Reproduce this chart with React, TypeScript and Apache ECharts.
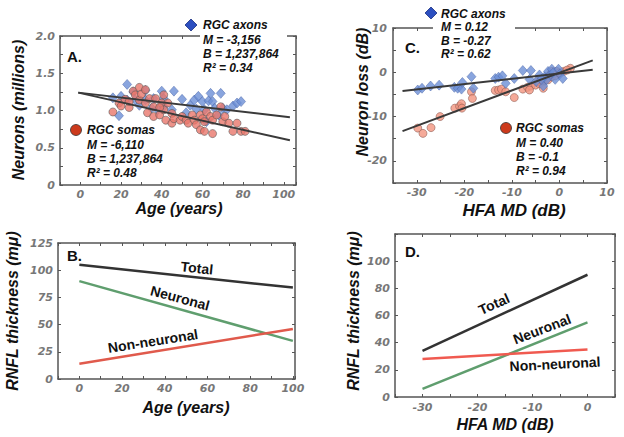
import React, { useEffect, useRef } from "react";
import * as echarts from "echarts";

// Panel A: neurons (millions) vs age
const axonAgeA = [16, 20, 19, 23, 23, 26, 27, 29, 32, 32, 35, 36, 38, 40, 41, 41, 46, 45, 50, 52, 54, 56, 57, 58, 60, 61, 63, 64, 65, 66, 68, 69, 70, 72, 75, 77, 79, 62];
const axonValA = [1.17, 1.19, 0.93, 1.14, 1.35, 1.25, 1.14, 1.07, 1.27, 1.14, 1.03, 1.16, 1.01, 1.26, 1.16, 1.05, 1.26, 1.01, 1.15, 0.97, 1.07, 1.14, 1.02, 1.19, 1.12, 1.01, 1.13, 1.23, 1.12, 1.03, 0.94, 1.23, 1.03, 1.01, 1.06, 1.1, 1.12, 0.85];
const somaAgeA = [16, 19, 20, 22, 24, 26, 27, 29, 29, 30, 32, 33, 34, 36, 36, 37, 39, 40, 41, 42, 43, 45, 45, 46, 49, 50, 52, 53, 55, 56, 57, 59, 60, 61, 62, 64, 65, 67, 69, 70, 71, 73, 59, 61, 65, 75, 77, 79, 81, 39, 24, 32, 41];
const somaValA = [0.98, 1.1, 1.06, 1.15, 1.04, 1.26, 1.21, 1.31, 1.14, 1.22, 1.1, 0.97, 1.16, 0.92, 1.05, 1.16, 0.94, 1.1, 1.01, 0.87, 1.1, 0.96, 0.83, 0.89, 0.87, 0.92, 0.87, 0.83, 0.94, 0.87, 0.81, 0.94, 0.89, 0.85, 0.98, 0.92, 0.87, 0.94, 1.05, 0.85, 0.92, 0.83, 0.74, 0.72, 0.69, 0.72, 0.83, 0.72, 0.72, 1.04, 1.12, 1.28, 1.21];
const fitAgeA = [-1, 103];
const axonFitA = [1.24, 0.91];
const somaFitA = [1.24, 0.6];

// Panel C: neuron loss (dB) vs HFA MD
const axonMdC = [-29.8, -28.9, -27.1, -25.3, -22.1, -21.4, -20.6, -20.4, -18.5, -18.1, -13.5, -12.8, -12.0, -11.3, -9.5, -7.7, -6.0, -6.3, -4.9, -4.2, -3.4, -3.1, -2.4, -2.0, -1.6, -1.3, -0.9, -0.2, 0.1, 0.7, -2.7, -3.8];
const axonValC = [-4.0, -3.6, -3.1, -2.9, -3.4, -3.6, -3.8, -2.3, -1.0, -3.6, -1.4, -1.1, -0.8, -2.5, -1.4, 0.4, 0.4, -1.6, -2.1, -0.6, -3.1, -1.0, 0.2, -0.6, 0.7, -0.1, -1.6, 0.7, -0.4, -1.4, -1.7, -1.6];
const somaMdC = [-29.8, -28.7, -27.0, -25.1, -22.0, -21.0, -20.6, -20.5, -18.5, -18.3, -13.5, -12.8, -12.2, -11.3, -9.5, -7.7, -6.7, -6.0, -6.3, -5.0, -4.5, -4.2, -3.4, -3.1, -2.7, -2.4, -2.0, -1.6, -1.3, -0.9, -0.6, 0.1, 0.9, 2.3, 1.6, -3.4, -1.6];
const somaValC = [-12.6, -13.8, -12.5, -10.0, -8.1, -7.7, -7.1, -8.1, -4.4, -5.9, -4.1, -4.0, -3.8, -4.4, -5.7, -3.8, -3.4, -3.1, -4.0, -2.9, -2.1, -2.6, -2.1, -1.6, -1.1, -1.7, -0.6, -1.0, -0.4, -0.8, 0.2, -0.1, 0.2, 0.9, 0.5, -3.6, 0.2];
const fitMdC = [-33, 7];
const axonFitC = [-4.2, 0.55];
const somaFitC = [-13.3, 2.7];

// Panel B: RNFL thickness vs age
const ageB = [0, 100];
const totalB = [105, 84];
const neuronalB = [90, 35];
const nonNeuronalB = [14, 46];

// Panel D: RNFL thickness vs HFA MD
const mdD = [-30, 0];
const totalD = [34, 90];
const neuronalD = [6, 55];
const nonNeuronalD = [28, 35];

const zip = (xs: number[], ys: number[]) => xs.map((x, i) => [x, ys[i]]);

const AX = "#555";
const tickFont = {
  color: "#777",
  fontFamily: "DejaVu Sans",
  fontWeight: "bold" as const,
  fontStyle: "italic" as const,
  fontSize: 11,
};

function axis(
  dim: "x" | "y",
  gridIndex: number,
  min: number,
  max: number,
  interval: number,
  fmt: ((v: number) => string) | null,
  mirror: boolean,
  margin: number
) {
  return {
    type: "value",
    gridIndex,
    min,
    max,
    interval,
    position: dim === "x" ? (mirror ? "top" : "bottom") : mirror ? "right" : "left",
    axisLine: { show: true, onZero: false, lineStyle: { color: AX, width: 1.5 } },
    axisTick: { show: true, inside: true, length: 3, lineStyle: { color: AX, width: 1 } },
    axisLabel: {
      show: !mirror,
      margin,
      ...tickFont,
      formatter: fmt ? (v: number) => fmt(v) : undefined,
    },
    splitLine: { show: false },
  };
}

const nameFont = "italic bold 16px 'Liberation Sans', Arial, sans-serif";
const legFont = "italic bold 12px 'Liberation Sans', Arial, sans-serif";
const lineFont = "bold 14px 'Liberation Sans', Arial, sans-serif";
const panelFont = "bold 15px 'Liberation Sans', Arial, sans-serif";

function txt(text: string, x: number, y: number, font: string, align = "left", rotation = 0) {
  return {
    type: "text",
    x,
    y,
    rotation,
    z: 100,
    style: { text, font, fill: "#111", align, verticalAlign: "middle" },
  };
}

function diamond(x: number, y: number, r: number) {
  return {
    type: "polygon",
    z: 100,
    shape: { points: [[x, y - r], [x + r, y], [x, y + r], [x - r, y]] },
    style: { fill: "#2c4fc0", stroke: "#1a2f80", lineWidth: 0.8 },
  };
}
function dot(x: number, y: number, r: number) {
  return {
    type: "circle",
    z: 100,
    shape: { cx: x, cy: y, r },
    style: { fill: "#cc3a1c", stroke: "#333", lineWidth: 0.8 },
  };
}
function mask(x: number, y: number, w: number, h: number) {
  return { type: "rect", z: 90, shape: { x, y, width: w, height: h }, style: { fill: "#fff" } };
}

const deg = Math.PI / 180;

export default function App() {
  const ref = useRef<HTMLDivElement>(null);
  useEffect(() => {
    if (!ref.current) return;
    const chart = echarts.init(ref.current, null, { renderer: "svg" });
    const fit = (
      xs: number[],
      ys: number[],
      gi: number,
      color: string,
      width: number
    ) => ({
      type: "line",
      xAxisIndex: gi * 2,
      yAxisIndex: gi * 2,
      data: zip(xs, ys),
      symbol: "none",
      lineStyle: { color, width },
      z: 5,
    });
    const option = {
      animation: false,
      backgroundColor: "#fff",
      grid: [
        { left: 60, top: 36, width: 236, height: 149 },
        { left: 58, top: 243, width: 237, height: 136 },
        { left: 393, top: 28, width: 214, height: 155 },
        { left: 395, top: 234, width: 220, height: 163 },
      ],
      xAxis: [
        axis("x", 0, -10, 106, 10, (v) => (v % 20 === 0 && v >= 0 && v <= 100 ? String(v) : ""), false, 4),
        axis("x", 0, -10, 106, 10, null, true, 4),
        axis("x", 1, -10, 101, 10, (v) => (v % 20 === 0 && v >= 0 && v <= 100 ? String(v) : ""), false, 4),
        axis("x", 1, -10, 101, 10, null, true, 4),
        axis("x", 2, -35, 10, 5, (v) => (v % 10 === 0 ? String(v) : ""), false, 4),
        axis("x", 2, -35, 10, 5, null, true, 4),
        axis("x", 3, -35, 5, 5, (v) => (v % 10 === 0 && v <= 0 ? String(v) : ""), false, 5),
        axis("x", 3, -35, 5, 5, null, true, 5),
      ],
      yAxis: [
        axis("y", 0, 0, 2, 0.25, (v) => (v === 0 ? "0" : Math.abs(v * 2 - Math.round(v * 2)) < 1e-9 ? v.toFixed(1) : ""), false, 5),
        axis("y", 0, 0, 2, 0.25, null, true, 5),
        axis("y", 1, 0, 125, 25, (v) => String(v), false, 5),
        axis("y", 1, 0, 125, 25, null, true, 5),
        axis("y", 2, -25, 10, 5, (v) => (v % 10 === 0 ? String(v) : ""), false, 6),
        axis("y", 2, -25, 10, 5, null, true, 6),
        axis("y", 3, 0, 120, 20, (v) => (v <= 100 ? String(v) : ""), false, 5),
        axis("y", 3, 0, 120, 20, null, true, 5),
      ],
      series: [
        {
          type: "scatter",
          xAxisIndex: 0,
          yAxisIndex: 0,
          symbol: "diamond",
          symbolSize: [9, 10],
          data: zip(axonAgeA, axonValA),
          itemStyle: { color: "#6b8fd6", borderColor: "#4a66a8", borderWidth: 0.6 },
          z: 2,
        },
        {
          type: "scatter",
          xAxisIndex: 0,
          yAxisIndex: 0,
          symbol: "circle",
          symbolSize: 8,
          data: zip(somaAgeA, somaValA),
          itemStyle: { color: "#e8776c", borderColor: "#555", borderWidth: 0.7 },
          z: 3,
        },
        fit(fitAgeA, axonFitA, 0, "#3a3a3a", 2),
        fit(fitAgeA, somaFitA, 0, "#3a3a3a", 2),
        {
          type: "scatter",
          xAxisIndex: 4,
          yAxisIndex: 4,
          symbol: "circle",
          symbolSize: 8,
          data: zip(somaMdC, somaValC),
          itemStyle: { color: "#f3957f", borderColor: "#8a5a50", borderWidth: 0.7 },
          z: 2,
        },
        {
          type: "scatter",
          xAxisIndex: 4,
          yAxisIndex: 4,
          symbol: "diamond",
          symbolSize: [9, 10],
          data: zip(axonMdC, axonValC),
          itemStyle: { color: "#6b8fd6", borderColor: "#4a66a8", borderWidth: 0.6 },
          z: 3,
        },
        fit(fitMdC, axonFitC, 2, "#3a3a3a", 2),
        fit(fitMdC, somaFitC, 2, "#3a3a3a", 2),
        fit(ageB, totalB, 1, "#333333", 2.5),
        fit(ageB, neuronalB, 1, "#5f9e6e", 2.5),
        fit(ageB, nonNeuronalB, 1, "#e05a4c", 2.5),
        fit(mdD, totalD, 3, "#333333", 2.5),
        fit(mdD, neuronalD, 3, "#5f9e6e", 2.5),
        fit(mdD, nonNeuronalD, 3, "#f05a50", 2.5),
      ],
      graphic: [
        // Panel labels
        txt("A.", 67, 56, panelFont),
        txt("B.", 67, 255, panelFont),
        txt("C.", 405, 47, panelFont),
        txt("D.", 405, 251, panelFont),
        // Axis names
        txt("Age (years)", 179, 208, nameFont, "center"),
        txt("Neurons (millions)", 18, 110, nameFont, "center", Math.PI / 2),
        txt("Age (years)", 186, 407, nameFont, "center"),
        txt("RNFL thickness (m\u03bc)", 12, 311, nameFont, "center", Math.PI / 2),
        txt("HFA MD (dB)", 514, 210, "italic bold 17px 'Liberation Sans', Arial, sans-serif", "center"),
        txt("Neuron loss (dB)", 362, 92, nameFont, "center", Math.PI / 2),
        txt("HFA MD (dB)", 505, 424, nameFont, "center"),
        txt("RNFL thickness (m\u03bc)", 353, 311, nameFont, "center", Math.PI / 2),
        // Panel A legends
        mask(200, 31, 87, 11),
        diamond(191, 25, 6),
        txt("RGC axons", 203, 25, legFont),
        txt("M = -3,156", 203, 40, legFont),
        txt("B = 1,237,864", 203, 54, legFont),
        txt("R\u00b2 = 0.34", 203, 68, legFont),
        dot(76, 130, 5.5),
        txt("RGC somas", 87, 130, legFont),
        txt("M = -6,110", 87, 145, legFont),
        txt("B = 1,237,864", 87, 159, legFont),
        txt("R\u00b2 = 0.48", 87, 173, legFont),
        // Panel C legends
        mask(433, 22, 82, 11),
        diamond(431, 13, 6),
        txt("RGC axons", 441, 14, legFont),
        txt("M = 0.12", 441, 27, legFont),
        txt("B = -0.27", 441, 41, legFont),
        txt("R\u00b2 = 0.62", 441, 54, legFont),
        dot(506, 128, 5.5),
        txt("RGC somas", 516, 128, legFont),
        txt("M = 0.40", 516, 143, legFont),
        txt("B = -0.1", 516, 157, legFont),
        txt("R\u00b2 = 0.94", 516, 171, legFont),
        // Panel B line labels
        txt("Total", 197, 268, lineFont, "center", -6 * deg),
        txt("Neuronal", 180, 298, lineFont, "center", -15 * deg),
        txt("Non-neuronal", 153, 341, lineFont, "center", 9 * deg),
        // Panel D line labels
        txt("Total", 494, 304, lineFont, "center", 24 * deg),
        txt("Neuronal", 542, 329, lineFont, "center", 21 * deg),
        txt("Non-neuronal", 555, 364, lineFont, "center", 3 * deg),
      ],
    };
    chart.setOption(option as any);
    return () => chart.dispose();
  }, []);
  return (
    <div
      ref={ref}
      style={{ position: "fixed", left: 0, top: 0, width: 624, height: 437, background: "#fff" }}
    />
  );
}
